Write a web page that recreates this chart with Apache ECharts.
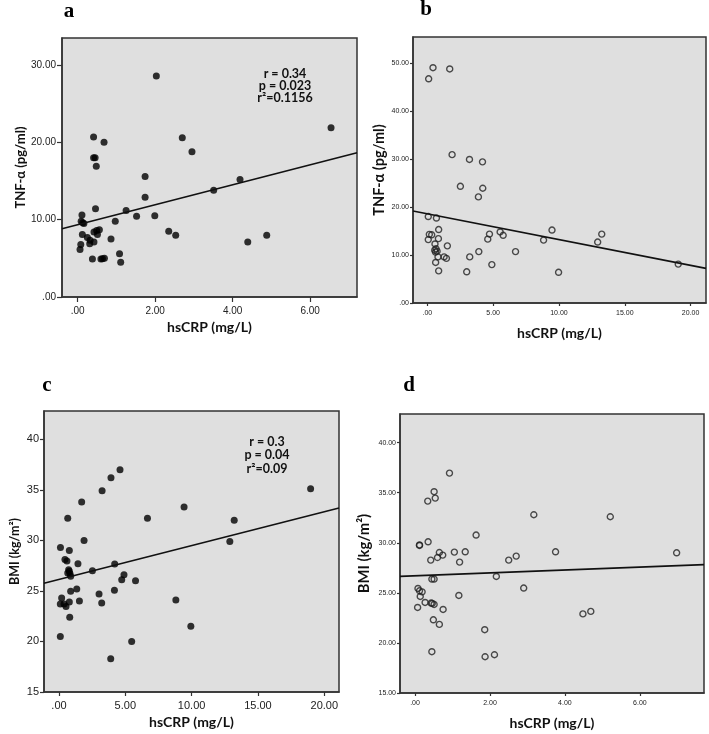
<!DOCTYPE html>
<html><head><meta charset="utf-8">
<script src="https://cdn.jsdelivr.net/npm/echarts@6/dist/echarts.min.js"></script>
<style>html,body{margin:0;padding:0;background:#fff}#c{width:709px;height:734px}</style>
</head><body><div id="c"></div>
<script>
// ---- data ----
const aCRP = [2.03,6.54,0.41,0.68,0.41,0.45,0.48,2.70,2.95,1.74,1.74,1.25,0.46,4.19,3.51,1.52,1.99,0.97,2.35,2.53,4.39,4.88,0.86,1.08,1.11,0.11,0.09,0.13,0.16,0.12,0.25,0.32,0.42,0.31,0.08,0.06,0.42,0.49,0.51,0.56,0.38,0.60,0.64,0.69];
const aTNF = [28.6,21.9,20.7,20.0,18.0,18.0,16.9,20.6,18.8,15.6,12.9,11.2,11.4,15.2,13.8,10.45,10.5,9.8,8.5,8.0,7.1,8.0,7.5,5.6,4.5,10.6,9.8,9.6,9.5,8.1,7.7,7.35,7.1,6.9,6.8,6.15,8.4,8.6,8.1,8.7,4.9,4.9,4.95,5.0];
const bCRP = [0.10,0.43,1.70,1.88,3.20,4.19,2.51,4.21,3.88,0.07,0.69,0.86,0.15,0.33,0.07,0.84,0.58,1.52,0.56,0.66,0.74,0.62,0.81,1.27,1.45,0.63,0.86,3.22,3.91,2.99,4.90,6.70,4.59,4.72,5.53,5.76,9.47,8.83,13.25,12.94,19.06,9.97];
const bTNF = [46.7,49.0,48.75,30.9,29.9,29.4,24.3,23.9,22.1,18.0,17.7,15.3,14.3,14.2,13.2,13.4,12.3,11.9,11.0,11.3,10.8,10.6,9.6,9.6,9.3,8.45,6.7,9.6,10.7,6.5,8.0,10.7,13.3,14.35,14.8,14.1,15.2,13.1,14.35,12.7,8.1,6.4];
const cCRP = [4.60,3.92,3.25,1.71,0.66,6.67,9.43,18.97,13.21,12.88,1.89,0.11,0.78,0.45,0.60,0.73,0.78,0.66,0.83,0.88,1.43,2.52,4.20,4.90,4.73,5.77,1.34,0.88,4.18,0.20,0.10,0.38,0.53,0.78,1.54,3.02,3.22,0.81,0.10,8.81,9.94,5.48,3.90];
const cBMI = [37.0,36.2,34.9,33.8,32.2,32.2,33.3,35.1,32.0,29.9,30.0,29.3,29.0,28.1,27.96,27.1,26.94,26.78,26.7,26.45,27.7,27.0,27.67,26.6,26.1,26.0,25.2,24.97,25.07,24.3,23.7,23.7,23.45,23.9,24.0,24.7,23.8,22.4,20.5,24.1,21.5,20.0,18.3];
const dCRP = [0.92,0.51,0.54,0.34,1.63,0.35,0.12,0.12,0.65,0.74,0.60,1.05,1.34,1.19,0.42,2.50,2.70,3.17,2.17,0.45,0.51,2.90,0.08,0.12,0.19,0.14,1.17,0.27,0.43,0.46,0.51,0.07,0.75,0.49,0.65,1.86,0.45,1.87,2.12,5.21,3.75,6.98,4.48,4.69];
const dBMI = [36.96,35.1,34.46,34.16,30.77,30.1,29.73,29.78,29.03,28.77,28.53,29.07,29.1,28.07,28.27,28.27,28.67,32.8,26.64,26.38,26.38,25.48,25.44,25.21,25.1,24.64,24.74,24.04,23.98,23.94,23.84,23.54,23.34,22.31,21.85,21.32,19.12,18.62,18.82,32.6,29.1,29.0,22.9,23.15];
// regression lines: [intercept, slope]
const aFit = [9.36, 1.29];
const bFit = [18.56, -0.536];
const cFit = [26.13, 0.335];
const dFit = [26.70, 0.145];
// tick values
const aXTicks = [0,2,4,6], aYTicks = [0,10,20,30];
const bXTicks = [0,5,10,15,20], bYTicks = [0,10,20,30,40,50];
const cXTicks = [0,5,10,15,20], cYTicks = [15,20,25,30,35,40];
const dXTicks = [0,2,4,6], dYTicks = [15,20,25,30,35,40];
// texts
const letters = ['a','b','c','d'];
const xTitle = 'hsCRP (mg/L)';
const yTitles = ['TNF-α (pg/ml)','TNF-α (pg/ml)','BMI (kg/m²)','BMI (kg/m²)'];
const aStats = ['r = 0.34','p = 0.023','r²=0.1156'];
const cStats = ['r = 0.3','p = 0.04','r²=0.09'];

// ---- layout ----
const fmt2 = v => v === 0 ? '.00' : v.toFixed(2);
const fmtInt = v => String(v);
const panels = [
  {x:aCRP, y:aTNF, fit:aFit, xt:aXTicks, yt:aYTicks, grid:{left:62,top:38,width:295,height:259},
   xr:[-0.405,7.21], yr:[0,33.5], yfmt:fmt2, lab:10, tick:5, filled:true, yGap:35, yName:13},
  {x:bCRP, y:bTNF, fit:bFit, xt:bXTicks, yt:bYTicks, grid:{left:413,top:37,width:293,height:266},
   xr:[-1.09,21.17], yr:[0,55.4], yfmt:fmt2, lab:7, tick:3, filled:false, yGap:26, yName:14.5},
  {x:cCRP, y:cBMI, fit:cFit, xt:cXTicks, yt:cYTicks, grid:{left:44,top:411,width:295,height:281},
   xr:[-1.13,21.11], yr:[15,42.8], yfmt:fmtInt, lab:11, tick:4, filled:true, yGap:23, yName:12.5},
  {x:dCRP, y:dBMI, fit:dFit, xt:dXTicks, yt:dYTicks, grid:{left:400,top:414,width:304,height:279},
   xr:[-0.40,7.71], yr:[15,42.86], yfmt:fmt2, lab:7, tick:3, filled:false, yGap:28, yName:14.8}
];
const axisCol = '#333';
const grids = [], xAxes = [], yAxes = [], series = [];
panels.forEach((p, i) => {
  grids.push(Object.assign({show:true, backgroundColor:'#dfdfdf', borderColor:axisCol, borderWidth:1.5}, p.grid));
  const labFont = p.lab >= 10 ? 'Liberation Sans Narrow, Liberation Sans, Arial' : 'Liberation Sans Narrow, Liberation Sans, Arial';
  xAxes.push({type:'value', gridIndex:i, min:p.xr[0], max:p.xr[1],
    name:xTitle, nameLocation:'middle', nameGap:23,
    nameTextStyle:{fontFamily:'Lato', fontWeight:'bold', fontSize:14, color:'#111'},
    axisLine:{show:true, onZero:false, lineStyle:{color:axisCol, width:1.5}},
    axisTick:{show:true, length:p.tick, customValues:p.xt, lineStyle:{color:axisCol, width:1.2}},
    axisLabel:{customValues:p.xt, formatter:fmt2, fontFamily:labFont, fontSize:p.lab, color:'#222', margin:p.tick+4},
    splitLine:{show:false}});
  yAxes.push({type:'value', gridIndex:i, min:p.yr[0], max:p.yr[1],
    name:yTitles[i], nameLocation:'middle', nameGap:p.yGap, nameRotate:90,
    nameTextStyle:{fontFamily:'Lato', fontWeight:'bold', fontSize:p.yName, color:'#111'},
    axisLine:{show:true, onZero:false, lineStyle:{color:axisCol, width:1.5}},
    axisTick:{show:true, length:p.tick, customValues:p.yt, lineStyle:{color:axisCol, width:1.2}},
    axisLabel:{customValues:p.yt, formatter:p.yfmt, fontFamily:labFont, fontSize:p.lab, color:'#222', margin:p.tick+1},
    splitLine:{show:false}});
  series.push({type:'scatter', xAxisIndex:i, yAxisIndex:i, silent:true,
    data:p.x.map((v, k) => [v, p.y[k]]),
    symbol:'circle', symbolSize:p.filled ? 7 : 6,
    itemStyle: p.filled ? {color:'#000'} : {color:'rgba(0,0,0,0)', borderColor:'#222', borderWidth:1.4}});
  series.push({type:'line', xAxisIndex:i, yAxisIndex:i, silent:true, symbol:'none',
    data:[[p.xr[0], p.fit[0] + p.fit[1]*p.xr[0]], [p.xr[1], p.fit[0] + p.fit[1]*p.xr[1]]],
    lineStyle:{color:'#111', width:1.6}, z:3});
});

const letterPos = [[69,12],[426,10],[47,386],[409,386]];
const graphic = letters.map((t, i) => ({type:'text', x:letterPos[i][0], y:letterPos[i][1],
  style:{text:t, font:'bold 21px "Liberation Serif", serif', fill:'#000', align:'center', verticalAlign:'middle'}}));
const statFont = 'bold 12.5px Lato';
[[aStats, 285, [74,86,98]], [cStats, 267, [442,455,469]]].forEach(([lines, cx, ys]) => {
  lines.forEach((t, k) => graphic.push({type:'text', x:cx, y:ys[k],
    style:{text:t, font:statFont, fill:'#111', align:'center', verticalAlign:'middle'}}));
});

const chart = echarts.init(document.getElementById('c'), null, {renderer:'canvas'});
chart.setOption({animation:false, backgroundColor:'#fff', grid:grids, xAxis:xAxes, yAxis:yAxes, series:series, graphic:graphic});
</script></body></html>
